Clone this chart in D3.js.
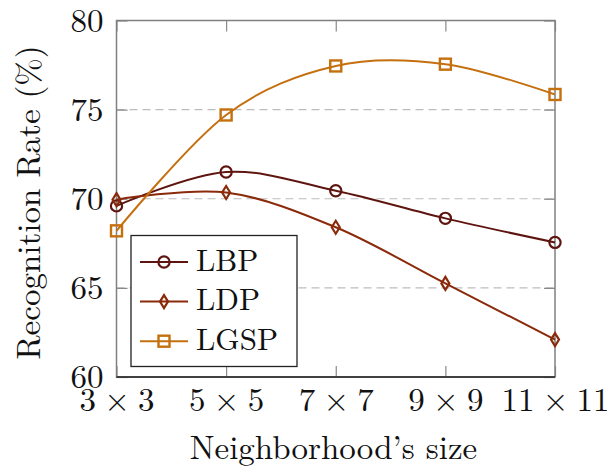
<!DOCTYPE html>
<html>
<head>
<meta charset="utf-8">
<script src="https://cdn.jsdelivr.net/npm/d3@7"></script>
<style>
  body { margin: 0; background: #fff; }
</style>
</head>
<body>
<script>
// neighbourhood sizes and recognition rates (%)
var sizes = ["3\u2005×\u20053", "5\u2005×\u20055", "7\u2005×\u20057", "9\u2005×\u20059", "11\u2005×\u200511"];
var lbp = [69.6, 71.5, 70.45, 68.9, 67.55];
var ldp = [69.95, 70.35, 68.4, 65.25, 62.1];
var lgsp = [68.2, 74.7, 77.45, 77.55, 75.85];
var yTicks = [60, 65, 70, 75, 80];
var gridTicks = [65, 70, 75];

var W = 607, H = 466;
var M = {left: 116.5, right: 52, top: 20.5, bottom: 89};
var FS = 33;
var LEG_FS = 31;
var FONT = "Latin Modern Roman";

var series = [
  {name: "LBP", values: lbp, color: "#5e1510", mark: "circle"},
  {name: "LDP", values: ldp, color: "#8a2a0a", mark: "diamond"},
  {name: "LGSP", values: lgsp, color: "#c5700f", mark: "square"}
];

var svg = d3.select("body").append("svg")
  .attr("width", W)
  .attr("height", H)
  .attr("font-family", FONT);

var x = d3.scalePoint()
  .domain(sizes)
  .range([M.left, W - M.right]);
var y = d3.scaleLinear()
  .domain([60, 80])
  .range([H - M.bottom, M.top]);

// dashed grid
svg.selectAll("line.grid")
  .data(gridTicks)
  .enter()
  .append("line")
  .attr("class", "grid")
  .attr("x1", M.left)
  .attr("x2", W - M.right)
  .attr("y1", function (d) { return y(d); })
  .attr("y2", function (d) { return y(d); })
  .attr("stroke", "#bdbdbd")
  .attr("stroke-width", 1.2)
  .attr("stroke-dasharray", "8,5");

// axes (ticks drawn inward)
var tickLen = 11;
var bottomAxis = svg.append("g")
  .attr("transform", "translate(0," + (H - M.bottom) + ")")
  .call(d3.axisBottom(x).tickSize(-tickLen).tickPadding(11));
var topAxis = svg.append("g")
  .attr("transform", "translate(0," + M.top + ")")
  .call(d3.axisTop(x).tickSize(-tickLen).tickFormat(""));
var leftAxis = svg.append("g")
  .attr("transform", "translate(" + M.left + ",0)")
  .call(d3.axisLeft(y).tickValues(yTicks).tickSize(-tickLen).tickPadding(13));
var rightAxis = svg.append("g")
  .attr("transform", "translate(" + (W - M.right) + ",0)")
  .call(d3.axisRight(y).tickValues(yTicks).tickSize(-tickLen).tickFormat(""));

[bottomAxis, topAxis, leftAxis, rightAxis].forEach(function (g) {
  g.attr("font-family", FONT).attr("font-size", FS);
  g.select(".domain").remove();
  g.selectAll(".tick line").attr("stroke", "#8a8a8a").attr("stroke-width", 1.2);
  g.selectAll(".tick text").attr("fill", "#111");
});

// frame
svg.append("rect")
  .attr("x", M.left)
  .attr("y", M.top)
  .attr("width", W - M.right - M.left)
  .attr("height", H - M.bottom - M.top)
  .attr("fill", "none")
  .attr("stroke", "#808080")
  .attr("stroke-width", 1.5);
svg.append("line")
  .attr("x1", M.left).attr("x2", W - M.right)
  .attr("y1", H - M.bottom).attr("y2", H - M.bottom)
  .attr("stroke", "#222")
  .attr("stroke-width", 1.5);

// markers
function drawMark(g, kind, cx, cy, color) {
  if (kind === "circle") {
    g.append("circle").attr("cx", cx).attr("cy", cy).attr("r", 5.6)
      .attr("fill", "none").attr("stroke", color).attr("stroke-width", 2.2);
  } else if (kind === "square") {
    g.append("rect").attr("x", cx - 5.5).attr("y", cy - 5.5)
      .attr("width", 11).attr("height", 11)
      .attr("fill", "none").attr("stroke", color).attr("stroke-width", 2.4);
  } else {
    g.append("path")
      .attr("d", "M" + cx + "," + (cy - 6.5) + "L" + (cx + 4) + "," + cy +
        "L" + cx + "," + (cy + 6.5) + "L" + (cx - 4) + "," + cy + "Z")
      .attr("fill", "none").attr("stroke", color).attr("stroke-width", 2.2);
  }
}

var line = d3.line()
  .x(function (d, i) { return x(sizes[i]); })
  .y(function (d) { return y(d); })
  .curve(d3.curveCardinal.tension(0));

series.forEach(function (s) {
  var g = svg.append("g");
  g.append("path")
    .attr("d", line(s.values))
    .attr("fill", "none")
    .attr("stroke", s.color)
    .attr("stroke-width", 2);
  s.values.forEach(function (v, i) {
    drawMark(g, s.mark, x(sizes[i]), y(v), s.color);
  });
});

// legend
var lg = svg.append("g");
lg.append("rect")
  .attr("x", 131).attr("y", 235.5)
  .attr("width", 166).attr("height", 131)
  .attr("fill", "#fff")
  .attr("stroke", "#222")
  .attr("stroke-width", 1.3);
series.forEach(function (s, i) {
  var cy = 262 + i * 39.6;
  lg.append("line")
    .attr("x1", 140).attr("x2", 188)
    .attr("y1", cy).attr("y2", cy)
    .attr("stroke", s.color).attr("stroke-width", 2);
  drawMark(lg, s.mark, 164, cy, s.color);
  lg.append("text")
    .attr("x", 196)
    .attr("y", cy + 8.5)
    .attr("font-size", LEG_FS)
    .attr("fill", "#111")
    .text(s.name);
});

// axis titles
svg.append("text")
  .attr("x", 333.5)
  .attr("y", 459)
  .attr("text-anchor", "middle")
  .attr("font-size", FS)
  .attr("fill", "#111")
  .text("Neighborhood’s size");
svg.append("text")
  .attr("transform", "translate(40,202.5) rotate(-90)")
  .attr("text-anchor", "middle")
  .attr("font-size", FS)
  .attr("fill", "#111")
  .text("Recognition Rate (%)");
</script>
</body>
</html>
